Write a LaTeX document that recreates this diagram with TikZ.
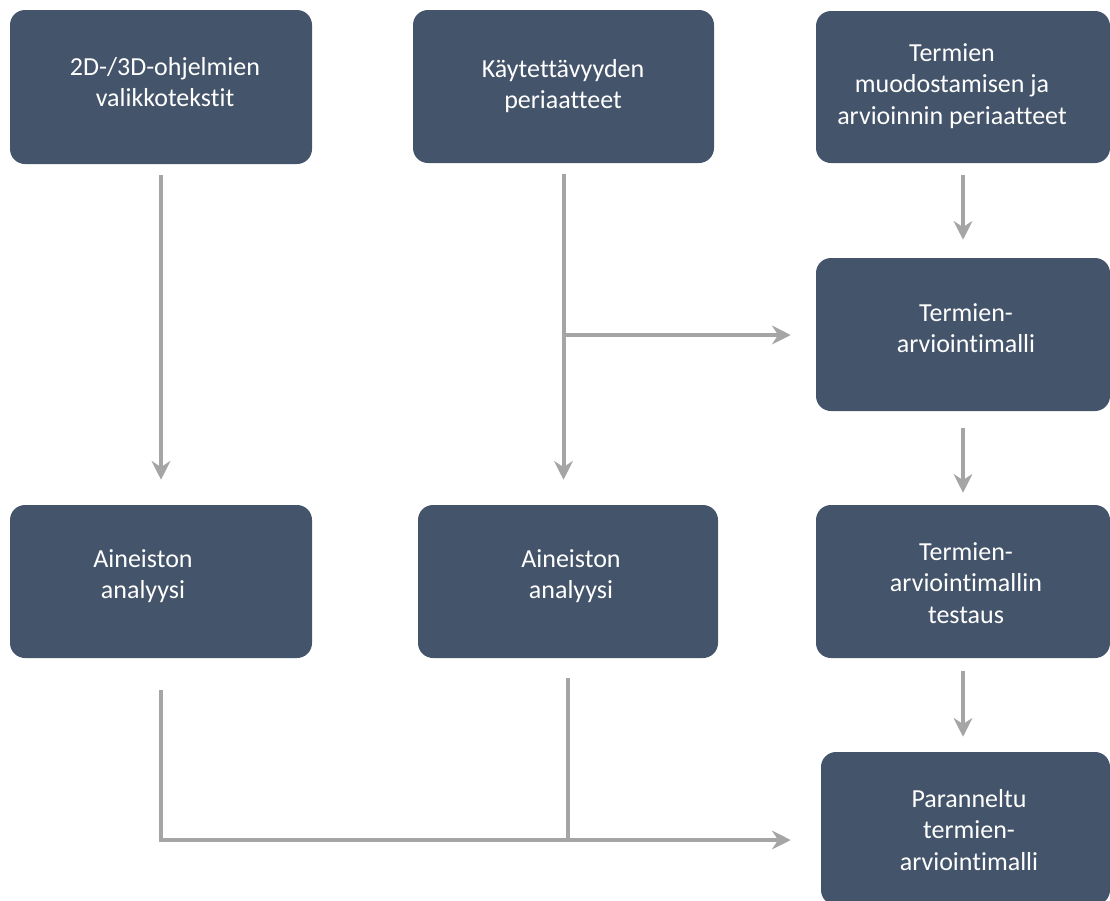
\documentclass[tikz,border=0pt]{standalone}
\usepackage{fontspec}
\setmainfont{Carlito}[Ligatures={NoCommon,NoRequired,NoContextual}]
\usetikzlibrary{arrows.meta,fit}
\definecolor{boxfill}{HTML}{44546A}
\definecolor{linkgray}{HTML}{A5A5A5}
\begin{document}
\begin{tikzpicture}[x=0.75pt,y=-0.75pt,
  box/.style={fill=boxfill, rounded corners=11.25pt, inner sep=0pt},
  lbl/.style={text=white, font=\fontsize{19.5}{23.4}\selectfont, align=center, inner sep=0pt},
  lnk/.style={draw=linkgray, line width=3pt},
  arr/.style={lnk, -{Stealth[length=14pt,width=14pt,inset=4.5pt]}}]
\useasboundingbox (0,0) rectangle (1110,900);
\clip (0,0) rectangle (1110,900);

% boxes
\node[box, fit={(10,10) (312,164)}]   (A) {};
\node[box, fit={(413,10) (714,163)}]  (B) {};
\node[box, fit={(816,11) (1110,163)}] (C) {};
\node[box, fit={(816,258) (1110,411)}] (D) {};
\node[box, fit={(10,505) (312,658)}]  (E) {};
\node[box, fit={(418,505) (718,658)}] (F) {};
\node[box, fit={(816,505) (1110,658)}] (G) {};
\node[box, fit={(821,752) (1110,905)}] (H) {};

% labels
\node[lbl] (tA) at (165,82)  {2D-/3D-ohjelmien\\valikkotekstit};
\node[lbl] (tB) at (563,86)  {Käytettävyyden\\periaatteet};
\node[lbl] (tC) at (952,86)  {Termien\\muodostamisen ja\\arvioinnin periaatteet};
\node[lbl] (tD) at (966,328) {Termien-\\arviointimalli};
\node[lbl] (tE) at (143,576) {Aineiston\\analyysi};
\node[lbl] (tF) at (571,576) {Aineiston\\analyysi};
\node[lbl] (tG) at (966,583) {Termien-\\arviointimallin\\testaus};
\node[lbl] (tH) at (969,830) {Paranneltu\\termien-\\arviointimalli};

% junctions
\coordinate (j1) at (B.south |- 0,335);
\coordinate (j2) at (E.south |- 0,840);

% connectors
\draw[arr, shorten <=8.25pt, shorten >=18.75pt] (A.south) -- (E.north);
\draw[arr, shorten <=8.25pt, shorten >=18.75pt] (B.south) -- (B.south |- F.north);
\draw[arr, shorten >=18.75pt] (j1) -- (j1 -| D.west);
\draw[arr, shorten <=9pt, shorten >=13.5pt] (C.south) -- (D.north);
\draw[arr, shorten <=12.75pt, shorten >=9pt] (D.south) -- (G.north);
\draw[arr, shorten <=9.75pt, shorten >=11.25pt] (G.south) -- (H.north -| G.south);
\draw[arr, shorten <=24pt, shorten >=22.5pt] (E.south) -- (j2) -- (j2 -| H.west);
\draw[lnk, shorten <=15pt] (F.south) -- (F.south |- j2);
\end{tikzpicture}
\end{document}
